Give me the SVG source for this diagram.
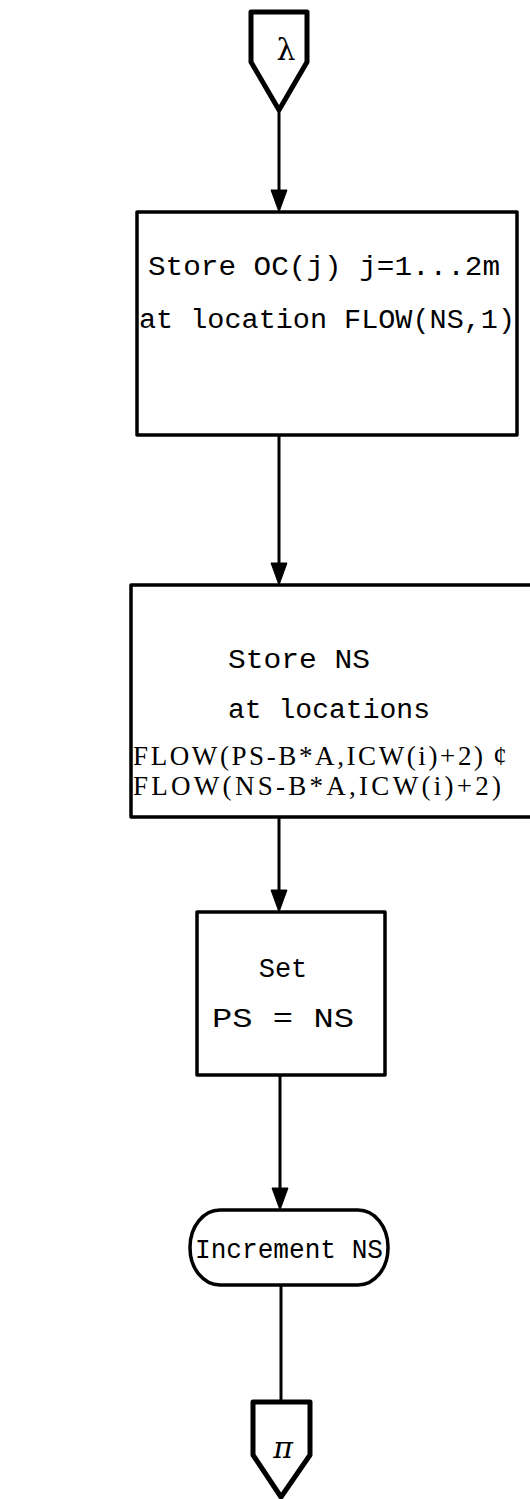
<svg xmlns="http://www.w3.org/2000/svg" width="530" height="1499" viewBox="0 0 530 1499">
<style>
.shape{fill:#fff;stroke:#000;stroke-width:3.5;stroke-linejoin:round}
.conn{fill:#fff;stroke:#000;stroke-width:5;stroke-linejoin:round}
.line{stroke:#000;stroke-width:3;fill:none}
.head{fill:#000;stroke:#000;stroke-width:1;stroke-linejoin:round}
.t{font-family:"Liberation Mono","DejaVu Sans Mono",monospace;font-size:27px;fill:#000}
.s{font-family:"Liberation Serif","DejaVu Serif",serif;font-size:27px;fill:#000}
.g{font-family:"DejaVu Serif","Liberation Serif",serif;font-size:30px;fill:#000}
</style>
<rect width="530" height="1499" fill="#fff"/>
<g id="connectors">
<path class="line" d="M279,110 V200"/>
<path class="line" d="M279,435 V574"/>
<path class="line" d="M279,817 V900"/>
<path class="line" d="M280,1075 V1198"/>
<path class="line" d="M281,1285 V1400"/>
<path class="head" d="M271,190 L287,190 L279,212 Z"/>
<path class="head" d="M271,563 L287,563 L279,585 Z"/>
<path class="head" d="M271,890 L287,890 L279,912 Z"/>
<path class="head" d="M272,1188 L288,1188 L280,1210 Z"/>
</g>
<g id="start">
<path class="conn" d="M251,12 H307 V62 L279,110 L251,62 Z"/>
<text class="g" x="286" y="60" text-anchor="middle">λ</text>
</g>
<g id="box1">
<rect class="shape" x="137" y="212" width="380" height="223"/>
<text class="t" x="148" y="275" textLength="352" lengthAdjust="spacingAndGlyphs">Store OC(j) j=1...2m</text>
<text class="t" x="139" y="328" textLength="376" lengthAdjust="spacingAndGlyphs">at location FLOW(NS,1)</text>
</g>
<g id="box2">
<path class="shape" d="M540,585 H131 V817 H540"/>
<text class="t" x="228" y="668" textLength="142" lengthAdjust="spacingAndGlyphs">Store NS</text>
<text class="t" x="228" y="718" textLength="202" lengthAdjust="spacingAndGlyphs">at locations</text>
<text class="s" x="133" y="765" textLength="350" lengthAdjust="spacing">FLOW(PS-B*A,ICW(i)+2)</text>
<text class="s" x="500" y="765" text-anchor="middle">¢</text>
<text class="s" x="133" y="795" textLength="368" lengthAdjust="spacing">FLOW(NS-B*A,ICW(i)+2)</text>
</g>
<g id="box3">
<rect class="shape" x="197" y="912" width="188" height="163"/>
<text class="t" x="283" y="977" text-anchor="middle">Set</text>
<text class="t" x="212" y="1027" textLength="142" lengthAdjust="spacingAndGlyphs">PS = NS</text>
</g>
<g id="term">
<rect class="shape" x="190" y="1210" width="198" height="75" rx="30" ry="37"/>
<text class="t" x="195" y="1258" textLength="188" lengthAdjust="spacingAndGlyphs">Increment NS</text>
</g>
<g id="end">
<path class="conn" d="M253,1402 H310 V1455 L281,1497 L253,1455 Z"/>
<text class="g" x="283" y="1458" text-anchor="middle" font-style="italic">π</text>
</g>
</svg>
